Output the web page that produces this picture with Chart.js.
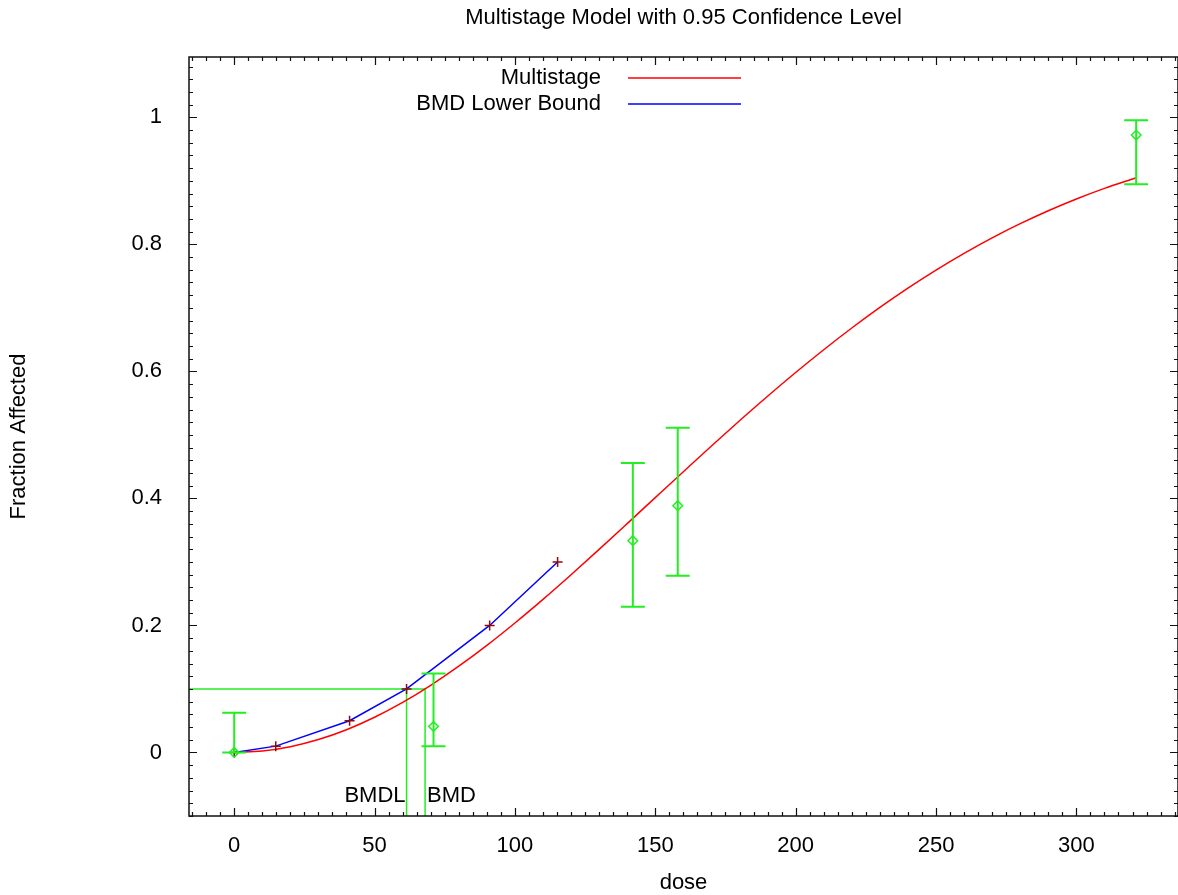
<!DOCTYPE html>
<html>
<head>
<meta charset="utf-8">
<script src="https://cdn.jsdelivr.net/npm/chart.js@4"></script>
<style>
  html, body { margin: 0; padding: 0; background: #fff; }
  #wrap { position: relative; width: 1178px; height: 895px; overflow: hidden; }
</style>
</head>
<body>
<div id="wrap"><canvas id="c"></canvas></div>
<script>
// ---- data ----
const chartTitle = 'Multistage Model with 0.95 Confidence Level';
const xTitle = 'dose';
const yTitle = 'Fraction Affected';
const xTickValues = [0, 50, 100, 150, 200, 250, 300];
const yTickValues = [0, 0.2, 0.4, 0.6, 0.8, 1];
const yTickLabels = ['0', '0.2', '0.4', '0.6', '0.8', '1'];

// Multistage model curve
const modelDose = [0, 10, 20, 30, 40, 50, 60, 70, 80, 90, 100, 110, 120, 130, 140, 150, 160,
  170, 180, 190, 200, 210, 220, 230, 240, 250, 260, 270, 280, 290, 300, 310, 321.3];
const modelFrac = [0, 0.0023, 0.0091, 0.0203, 0.0358, 0.0554, 0.0788, 0.1057, 0.1358, 0.1686,
  0.2039, 0.2411, 0.2799, 0.3198, 0.3604, 0.4013, 0.4421, 0.4826, 0.5223, 0.5609, 0.5983,
  0.6341, 0.6683, 0.7007, 0.7311, 0.7595, 0.7859, 0.8103, 0.8326, 0.8530, 0.8715, 0.8882, 0.9050];

// BMD lower bound curve
const bmdlDose = [0, 14.8, 41.1, 61.4, 91.0, 115.2];
const bmdlFrac = [0, 0.01, 0.05, 0.10, 0.20, 0.30];

// Observed data with confidence intervals
const obsDose = [0, 71.0, 142.0, 158.0, 321.3];
const obsFrac = [0, 0.041, 0.3334, 0.3885, 0.9721];
const obsLower = [0, 0.0099, 0.2294, 0.2783, 0.8945];
const obsUpper = [0.0625, 0.1244, 0.4556, 0.5113, 0.9953];

// Benchmark response / doses
const bmr = 0.1;
const bmdValue = 68.0;
const bmdlValue = 61.4;

const xMin = -16.1, xMax = 336.2;
const yMin = -0.1, yMax = 1.095;

// ---- build chart ----
const FONT = '"Liberation Sans", Arial, Helvetica, sans-serif';
Chart.defaults.font.family = FONT;
Chart.defaults.color = '#000';

const toXY = (xs, ys) => xs.map((x, i) => ({x: x, y: ys[i]}));

const bmdLines = [
  {x: xMin, y: bmr}, {x: bmdValue, y: bmr}, {x: bmdValue, y: yMin},
  {x: bmdValue, y: null},
  {x: bmdlValue, y: bmr}, {x: bmdlValue, y: yMin}
];

const GREEN = '#22ee22';

const framePlugin = {
  id: 'frame',
  afterDatasetsDraw(chart) {
    const {ctx, chartArea: a, scales: {x, y}} = chart;
    ctx.save();
    // error bars
    ctx.strokeStyle = GREEN;
    ctx.lineWidth = 2;
    obsDose.forEach((d, i) => {
      const px = x.getPixelForValue(d);
      const lo = y.getPixelForValue(obsLower[i]);
      const hi = y.getPixelForValue(obsUpper[i]);
      ctx.beginPath();
      ctx.moveTo(px, lo); ctx.lineTo(px, hi);
      ctx.moveTo(px - 12, lo); ctx.lineTo(px + 12, lo);
      ctx.moveTo(px - 12, hi); ctx.lineTo(px + 12, hi);
      ctx.stroke();
    });
    // BMD labels
    ctx.fillStyle = '#000';
    ctx.font = '22px ' + FONT;
    ctx.textBaseline = 'middle';
    const ly = y.getPixelForValue(-0.068);
    ctx.textAlign = 'right';
    ctx.fillText('BMDL', x.getPixelForValue(bmdlValue) - 1, ly);
    ctx.textAlign = 'left';
    ctx.fillText('BMD', x.getPixelForValue(bmdValue) + 2, ly);
    ctx.restore();
  },
  afterDraw(chart) {
    const {ctx, chartArea: a, scales: {x, y}} = chart;
    ctx.save();
    ctx.strokeStyle = '#111';
    ctx.lineWidth = 1.5;
    ctx.strokeRect(a.left, a.top, a.right - a.left, a.bottom - a.top);
    ctx.lineWidth = 1.2;
    ctx.beginPath();
    // x ticks (major + minor), mirrored on top
    for (let v = -15; v <= xMax; v += 5) {
      const major = xTickValues.includes(v);
      const len = major ? 8 : 4;
      const px = Math.round(x.getPixelForValue(v)) + 0.5;
      ctx.moveTo(px, a.bottom); ctx.lineTo(px, a.bottom - len);
      ctx.moveTo(px, a.top); ctx.lineTo(px, a.top + len);
    }
    // y ticks, mirrored on right
    for (let k = -5; k * 0.02 <= yMax; k++) {
      const v = k * 0.02;
      const major = k % 10 === 0;
      const len = major ? 8 : 4;
      const py = Math.round(y.getPixelForValue(v)) + 0.5;
      ctx.moveTo(a.left, py); ctx.lineTo(a.left + len, py);
      ctx.moveTo(a.right, py); ctx.lineTo(a.right - len, py);
    }
    ctx.stroke();
    // legend
    ctx.font = '22px ' + FONT;
    ctx.textAlign = 'right';
    ctx.textBaseline = 'middle';
    ctx.fillStyle = '#000';
    const items = [chart.data.datasets[0], chart.data.datasets[1]];
    items.forEach((ds, i) => {
      const yy = 78 + i * 26;
      ctx.fillText(ds.label, 601, yy);
      ctx.strokeStyle = ds.borderColor;
      ctx.lineWidth = 1.5;
      ctx.beginPath();
      ctx.moveTo(628, yy); ctx.lineTo(741, yy);
      ctx.stroke();
    });
    ctx.restore();
  }
};

new Chart(document.getElementById('c'), {
  type: 'scatter',
  data: {
    datasets: [
      {
        label: 'Multistage',
        data: toXY(modelDose, modelFrac),
        showLine: true,
        borderColor: '#ff0000',
        borderWidth: 1.5,
        pointRadius: 0,
        tension: 0.3,
        cubicInterpolationMode: 'monotone',
        order: 2
      },
      {
        label: 'BMD Lower Bound',
        data: toXY(bmdlDose, bmdlFrac),
        showLine: true,
        borderColor: '#0000ff',
        borderWidth: 1.5,
        pointStyle: 'cross',
        pointRadius: 5,
        pointBorderColor: '#8b0a0a',
        pointBorderWidth: 1.5,
        pointBackgroundColor: '#8b0a0a',
        tension: 0,
        order: 1
      },
      {
        label: 'Data',
        data: toXY(obsDose, obsFrac),
        showLine: false,
        pointStyle: 'rectRot',
        pointRadius: 4.8,
        pointBorderColor: GREEN,
        pointBorderWidth: 1.5,
        pointBackgroundColor: 'rgba(0,0,0,0)',
        order: 0
      },
      {
        label: 'BMD',
        data: bmdLines,
        showLine: true,
        spanGaps: false,
        borderColor: GREEN,
        borderWidth: 1.5,
        pointRadius: 0,
        order: 3
      }
    ]
  },
  options: {
    responsive: true,
    maintainAspectRatio: false,
    animation: false,
    layout: { padding: { left: 0, top: 0, bottom: 0, right: -2 }, autoPadding: false },
    plugins: {
      legend: { display: false },
      tooltip: { enabled: false },
      title: {
        display: true,
        text: chartTitle,
        fullSize: false,
        font: { size: 22, weight: 'normal' },
        color: '#000',
        padding: { top: 5, bottom: 25.6 }
      }
    },
    scales: {
      x: {
        type: 'linear',
        min: xMin, max: xMax,
        grid: { display: false, drawTicks: false },
        border: { display: false },
        afterBuildTicks: s => { s.ticks = xTickValues.map(v => ({value: v})); },
        afterFit: s => { s.height = 79; s.paddingLeft = 0; s.paddingRight = 0; },
        ticks: {
          font: { size: 22 },
          color: '#000',
          padding: 17,
          maxRotation: 0,
          callback: v => String(v)
        },
        title: {
          display: true,
          text: xTitle,
          font: { size: 22, lineHeight: 1.0 },
          color: '#000',
          padding: { top: 0, bottom: 1 }
        }
      },
      y: {
        type: 'linear',
        min: yMin, max: yMax,
        grid: { display: false, drawTicks: false },
        border: { display: false },
        afterBuildTicks: s => { s.ticks = yTickValues.map(v => ({value: v})); },
        afterFit: s => { s.width = 189; s.paddingTop = 0; s.paddingBottom = 0; },
        ticks: {
          font: { size: 22 },
          color: '#000',
          padding: 27,
          callback: (v) => {
            const i = yTickValues.findIndex(t => Math.abs(t - v) < 1e-9);
            return i >= 0 ? yTickLabels[i] : '';
          }
        },
        title: {
          display: true,
          text: yTitle,
          font: { size: 22, lineHeight: 1.2 },
          color: '#000',
          padding: { top: 6, bottom: 0 }
        }
      }
    }
  },
  plugins: [framePlugin]
});
</script>
</body>
</html>
